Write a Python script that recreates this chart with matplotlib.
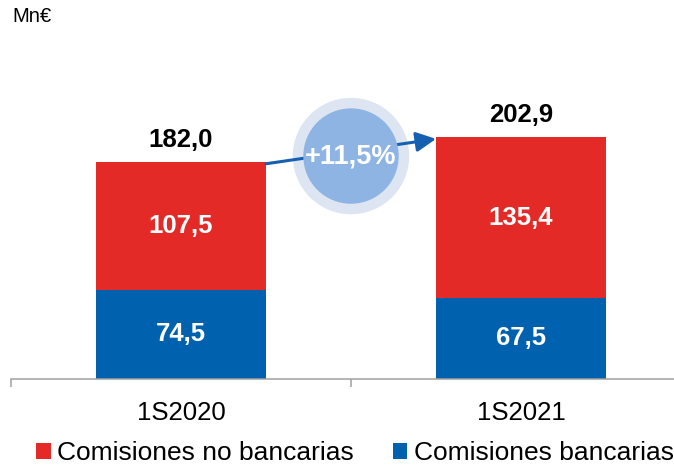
import matplotlib
matplotlib.use("Agg")
import matplotlib.pyplot as plt
from matplotlib.patches import Circle

plt.rcParams["font.family"] = ["Liberation Sans", "DejaVu Sans"]

periods = ["1S2020", "1S2021"]
comisiones_no_bancarias = [107.5, 135.4]
comisiones_bancarias = [74.5, 67.5]
totals = [182.0, 202.9]
series_names = ["Comisiones no bancarias", "Comisiones bancarias"]

RED = "#E42A27"
BLUE = "#0062AE"

fig = plt.figure(figsize=(6.74, 4.68), dpi=100)
ax = fig.add_axes([11 / 674, 89.5 / 468, 680 / 674, 297.4 / 468])

x = list(range(len(periods)))
bars_blue = ax.bar(x, comisiones_bancarias, width=0.5, color=BLUE, zorder=2)
bars_red = ax.bar(x, comisiones_no_bancarias, width=0.5, bottom=comisiones_bancarias,
                  color=RED, zorder=2)

ax.set_xlim(-0.5, 1.5)
ax.set_ylim(0, 250)

for xi, b, nb, t in zip(x, comisiones_bancarias, comisiones_no_bancarias, totals):
    ax.text(xi, b / 2, f"{b:.1f}".replace(".", ","), ha="center", va="center",
            color="white", fontsize=18.5, fontweight="bold")
    ax.text(xi, b + nb / 2, f"{nb:.1f}".replace(".", ","), ha="center", va="center",
            color="white", fontsize=18.5, fontweight="bold")
    ax.annotate(f"{t:.1f}".replace(".", ","), xy=(xi, t), xytext=(0, 16),
                textcoords="offset points", ha="center", va="center",
                fontsize=18.5, fontweight="bold", color="black")

# axis: only the bottom line with category separators
for side in ["left", "right", "top"]:
    ax.spines[side].set_visible(False)
ax.spines["bottom"].set_color("#A0A0A0")
ax.spines["bottom"].set_linewidth(1.1)
ax.set_yticks([])
ax.set_xticks(x)
ax.set_xticklabels(periods, fontsize=18.5)
ax.tick_params(axis="x", which="major", length=0, pad=16)
ax.set_xticks([-0.5, 0.5, 1.5], minor=True)
ax.tick_params(axis="x", which="minor", length=6, width=1.1, color="#A0A0A0", direction="out")

# growth bubble and arrow drawn in figure pixel space
overlay = fig.add_axes([0, 0, 1, 1], zorder=5)
overlay.set_xlim(0, 674)
overlay.set_ylim(0, 468)
overlay.axis("off")
overlay.patch.set_alpha(0)

to_px = ax.transData
start = to_px.transform((x[0] + 0.25, totals[0] - 1.5))
end = to_px.transform((x[1] - 0.25, totals[1] - 1.5))
center = to_px.transform((0.5, 187))

overlay.add_patch(Circle(center, 57.5, color="#DCE5F1", zorder=1))
overlay.annotate("", xy=end, xytext=start,
                 arrowprops=dict(arrowstyle="-|>,head_length=1.2,head_width=0.6",
                                 color="#1560B0", lw=2.2, shrinkA=0, shrinkB=0),
                 zorder=2)
overlay.add_patch(Circle(center, 47, color="#8EB4E3", zorder=3))
growth = (totals[1] / totals[0] - 1) * 100
overlay.text(center[0], center[1], f"+{growth:.1f}%".replace(".", ","), ha="center",
             va="center", color="white", fontsize=19.5, fontweight="bold", zorder=4)

fig.text(12 / 674, 1 - 16 / 468, "Mn€", fontsize=14.5, ha="left", va="center")

fig.legend([bars_red, bars_blue], series_names, loc="center", ncol=2,
           bbox_to_anchor=(355 / 674, 15 / 468), frameon=False, fontsize=19,
           handlelength=0.55, handleheight=0.55, handletextpad=0.25,
           columnspacing=1.45, borderpad=0, borderaxespad=0)

fig.savefig("out.png", dpi=100)
